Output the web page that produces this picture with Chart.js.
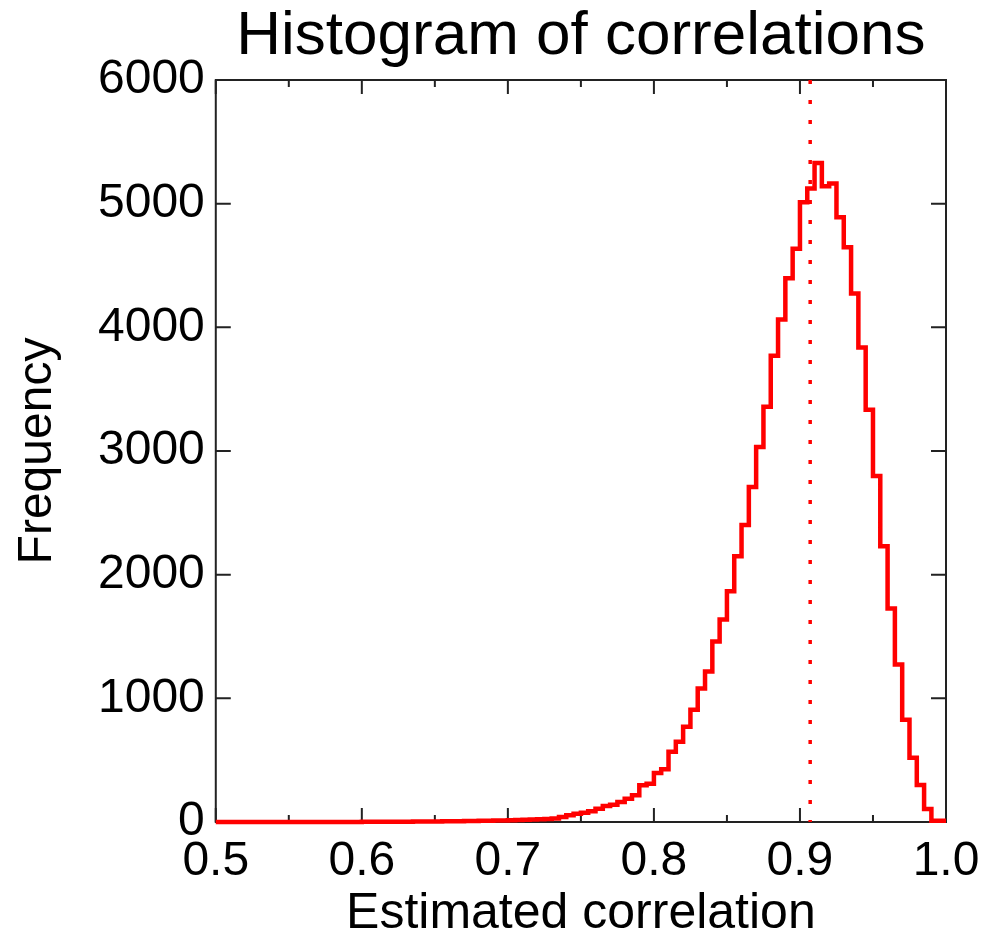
<!DOCTYPE html>
<html>
<head>
<meta charset="utf-8">
<title>Histogram of correlations</title>
<script src="https://cdn.jsdelivr.net/npm/chart.js@4/dist/chart.umd.min.js"></script>
<style>
  body { margin: 0; background: #fff; }
</style>
</head>
<body>
<canvas id="grafico1" width="983" height="939"></canvas>
<script>
// histogram bins: start 0.5, width 0.005 -> 100 bins up to 1.0
var binStart = 0.5;
var binWidth = 0.005;
var counts = [
  0, 0, 0, 0, 0, 0, 0, 0, 0, 0,
  0, 0, 0, 0, 0, 1, 1, 1, 1, 1,
  1, 2, 2, 2, 2, 3, 3, 3, 4, 4,
  5, 5, 6, 6, 7, 8, 9, 10, 11, 12,
  13, 15, 16, 18, 20, 22, 25, 28, 40, 55,
  67, 75, 87, 108, 130, 140, 162, 189, 216, 297,
  310, 397, 427, 568, 649, 770, 908, 1079, 1216, 1460,
  1638, 1865, 2149, 2401, 2709, 3033, 3357, 3771, 4063, 4396,
  4635, 5012, 5122, 5328, 5140, 5163, 4891, 4647, 4274, 3836,
  3333, 2798, 2230, 1727, 1273, 827, 519, 300, 105, 10
];
var meanCorr = 0.907;

var xMajor = [0.5, 0.6, 0.7, 0.8, 0.9, 1.0];
var xMinor = [0.55, 0.65, 0.75, 0.85, 0.95];
var yMajor = [0, 1000, 2000, 3000, 4000, 5000, 6000];

var fontFam = '"Liberation Sans", Arial, Helvetica, sans-serif';

// step points at the bin edges
var puntos = [];
for (var i = 0; i < counts.length; i++) {
  puntos.push({ x: binStart + i * binWidth, y: counts[i] });
}
puntos.push({ x: binStart + counts.length * binWidth, y: counts[counts.length - 1] });

// box + inward ticks like the original plot
var marco = {
  id: 'marco',
  beforeDatasetsDraw: function(chart) {
    var ctx = chart.ctx, a = chart.chartArea;
    var xs = chart.scales.x, ys = chart.scales.y;
    ctx.save();
    ctx.strokeStyle = '#222';
    ctx.lineWidth = 2;
    ctx.strokeRect(a.left, a.top, a.right - a.left, a.bottom - a.top);
    ctx.beginPath();
    xMajor.forEach(function(v) {
      var px = xs.getPixelForValue(v);
      ctx.moveTo(px, a.bottom); ctx.lineTo(px, a.bottom - 14);
      ctx.moveTo(px, a.top); ctx.lineTo(px, a.top + 14);
    });
    xMinor.forEach(function(v) {
      var px = xs.getPixelForValue(v);
      ctx.moveTo(px, a.bottom); ctx.lineTo(px, a.bottom - 7);
      ctx.moveTo(px, a.top); ctx.lineTo(px, a.top + 7);
    });
    yMajor.forEach(function(v) {
      var py = ys.getPixelForValue(v);
      ctx.moveTo(a.left, py); ctx.lineTo(a.left + 15, py);
      ctx.moveTo(a.right, py); ctx.lineTo(a.right - 15, py);
    });
    ctx.stroke();
    ctx.restore();
  },
  afterDatasetsDraw: function(chart) {
    var ctx = chart.ctx, a = chart.chartArea;
    var px = chart.scales.x.getPixelForValue(meanCorr);
    ctx.save();
    ctx.strokeStyle = '#ff0000';
    ctx.lineWidth = 3.5;
    ctx.setLineDash([4, 16]);
    ctx.beginPath();
    ctx.moveTo(px, a.top);
    ctx.lineTo(px, a.bottom);
    ctx.stroke();
    ctx.restore();
  }
};

var ctx = document.getElementById('grafico1');

var histo = new Chart(ctx, {
  type: 'line',
  data: {
    datasets: [{
      label: 'Correlations',
      data: puntos,
      borderColor: '#ff0000',
      borderWidth: 4.5,
      stepped: 'after',
      pointRadius: 0,
      fill: false,
      clip: false
    }]
  },
  options: {
    responsive: false,
    animation: false,
    layout: { padding: { left: 0, right: 37, top: 0, bottom: 0 } },
    plugins: {
      legend: { display: false },
      tooltip: { enabled: false },
      title: {
        display: true,
        fullSize: false,
        text: 'Histogram of correlations',
        color: '#000',
        font: { family: fontFam, size: 62, weight: 'normal', lineHeight: 1.2 },
        padding: { top: 0, bottom: 5.6 }
      }
    },
    scales: {
      x: {
        type: 'linear',
        min: 0.5,
        max: 1.0,
        grid: { display: false, drawTicks: true, tickLength: 13 },
        border: { display: false },
        ticks: {
          stepSize: 0.1,
          padding: 3,
          color: '#000',
          maxRotation: 0,
          font: { family: fontFam, size: 48, lineHeight: 1 },
          callback: function(v) { return Number(v).toFixed(1); }
        },
        title: {
          display: true,
          text: 'Estimated correlation',
          color: '#000',
          font: { family: fontFam, size: 50, lineHeight: 1 },
          padding: { top: 0, bottom: 0 }
        }
      },
      y: {
        min: 0,
        max: 6000,
        grid: { display: false, drawTicks: false },
        border: { display: false },
        ticks: {
          stepSize: 1000,
          padding: 11,
          color: '#000',
          font: { family: fontFam, size: 48, lineHeight: 1 },
          callback: function(v) { return String(v); }
        },
        title: {
          display: true,
          text: 'Frequency',
          color: '#000',
          font: { family: fontFam, size: 48, lineHeight: 1 },
          padding: { top: 14, bottom: 25 }
        }
      }
    }
  },
  plugins: [marco]
});
</script>
</body>
</html>
